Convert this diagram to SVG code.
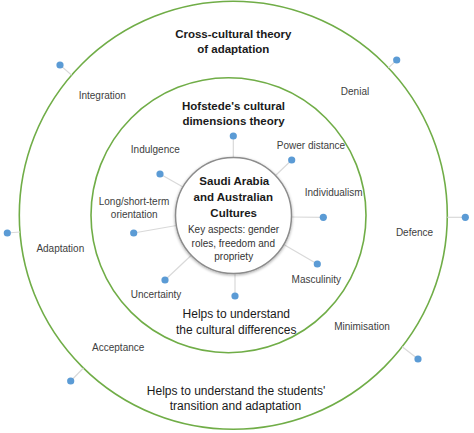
<svg xmlns="http://www.w3.org/2000/svg" width="474" height="433" viewBox="0 0 474 433">
<style>
.ring{fill:none;stroke:#70AD47;stroke-width:1.6}
.dot{fill:#5B9BD5}
.conn line{stroke:#D9D9D9;stroke-width:1.2}
.lbl{font-family:"Liberation Sans",Arial,sans-serif;font-size:10px;fill:#404040;text-anchor:middle}
.ttl{font-family:"Liberation Sans",Arial,sans-serif;font-size:11.5px;font-weight:bold;fill:#1a1a1a;text-anchor:middle}
.sub{font-family:"Liberation Sans",Arial,sans-serif;font-size:12px;fill:#1a1a1a;text-anchor:middle}
.key{font-family:"Liberation Sans",Arial,sans-serif;font-size:10px;fill:#333;text-anchor:middle}
</style>
<defs>
<filter id="sh" x="-20%" y="-20%" width="140%" height="140%">
<feGaussianBlur in="SourceAlpha" stdDeviation="1.5"/>
<feOffset dx="0" dy="1" result="b"/>
<feComponentTransfer><feFuncA type="linear" slope="0.35"/></feComponentTransfer>
<feMerge><feMergeNode/><feMergeNode in="SourceGraphic"/></feMerge>
</filter>
</defs>
<rect width="474" height="433" fill="#fff"/>
<g id="outer-ring">
<circle class="ring" cx="233.3" cy="215.3" r="214"/>
<text class="ttl" x="233.3" y="37.5">Cross-cultural theory</text>
<text class="ttl" x="233.3" y="53.3">of adaptation</text>
<text class="sub" x="236" y="395">Helps to understand the students'</text>
<text class="sub" x="235.5" y="410.3">transition and adaptation</text>
</g>
<g id="inner-ring">
<circle class="ring" cx="228.5" cy="215.2" r="137.5"/>
<text class="ttl" x="233.5" y="110">Hofstede's cultural</text>
<text class="ttl" x="233.5" y="125">dimensions theory</text>
<text class="sub" x="236.3" y="318.3">Helps to understand</text>
<text class="sub" x="236.2" y="334.3">the cultural differences</text>
</g>
<g id="connectors" class="conn">
<line x1="60" y1="65" x2="71.6" y2="75.1"/>
<line x1="396.7" y1="60" x2="388.4" y2="67.9"/>
<line x1="465.3" y1="217.3" x2="447.3" y2="217.3"/>
<line x1="418" y1="359" x2="402.2" y2="346.7"/>
<line x1="70.7" y1="381" x2="83.4" y2="368"/>
<line x1="7.3" y1="233" x2="20" y2="232"/>
<line x1="233.3" y1="136" x2="233.3" y2="157.5"/>
<line x1="291.7" y1="160" x2="275.5" y2="175.5"/>
<line x1="323.3" y1="217.3" x2="291.5" y2="217"/>
<line x1="317.3" y1="264" x2="283.7" y2="244.5"/>
<line x1="235" y1="296" x2="235" y2="273.5"/>
<line x1="165" y1="280" x2="191.3" y2="255.2"/>
<line x1="133.7" y1="233" x2="176.4" y2="225.5"/>
<line x1="160" y1="174" x2="183" y2="187"/>
</g>
<g id="center">
<circle cx="233.5" cy="215.5" r="58" fill="#fff" stroke="#8C8C8C" stroke-width="1.5" filter="url(#sh)"/>
<text class="ttl" x="234.3" y="185">Saudi Arabia</text>
<text class="ttl" x="233.3" y="201">and Australian</text>
<text class="ttl" x="233.7" y="216.7">Cultures</text>
<text class="key" x="233.5" y="233.3">Key aspects: gender</text>
<text class="key" x="233.3" y="247">roles, freedom and</text>
<text class="key" x="233.7" y="260">propriety</text>
</g>
<g id="integration"><circle class="dot" cx="60" cy="65" r="3.6"/><text class="lbl" x="102.3" y="99">Integration</text></g>
<g id="denial"><circle class="dot" cx="396.7" cy="60" r="3.6"/><text class="lbl" x="355" y="94.7">Denial</text></g>
<g id="defence"><circle class="dot" cx="465.3" cy="217.3" r="3.6"/><text class="lbl" x="414.5" y="235.7">Defence</text></g>
<g id="minimisation"><circle class="dot" cx="418" cy="359" r="3.6"/><text class="lbl" x="362" y="330">Minimisation</text></g>
<g id="acceptance"><circle class="dot" cx="70.7" cy="381" r="3.6"/><text class="lbl" x="118.2" y="350.7">Acceptance</text></g>
<g id="adaptation"><circle class="dot" cx="7.3" cy="233" r="3.6"/><text class="lbl" x="60.3" y="251.7">Adaptation</text></g>
<g id="top-dim"><circle class="dot" cx="233.3" cy="136" r="3.6"/></g>
<g id="power-distance"><circle class="dot" cx="291.7" cy="160" r="3.6"/><text class="lbl" x="311" y="149.3">Power distance</text></g>
<g id="individualism"><circle class="dot" cx="323.3" cy="217.3" r="3.6"/><text class="lbl" x="333.7" y="196">Individualism</text></g>
<g id="masculinity"><circle class="dot" cx="317.3" cy="264" r="3.6"/><text class="lbl" x="316.3" y="283.3">Masculinity</text></g>
<g id="bottom-dim"><circle class="dot" cx="235" cy="296" r="3.6"/></g>
<g id="uncertainty"><circle class="dot" cx="165" cy="280" r="3.6"/><text class="lbl" x="156" y="297.7">Uncertainty</text></g>
<g id="long-short"><circle class="dot" cx="133.7" cy="233" r="3.6"/><text class="lbl" x="134" y="205">Long/short-term</text><text class="lbl" x="134.2" y="218.3">orientation</text></g>
<g id="indulgence"><circle class="dot" cx="160" cy="174" r="3.6"/><text class="lbl" x="155.3" y="152.7">Indulgence</text></g>
</svg>
